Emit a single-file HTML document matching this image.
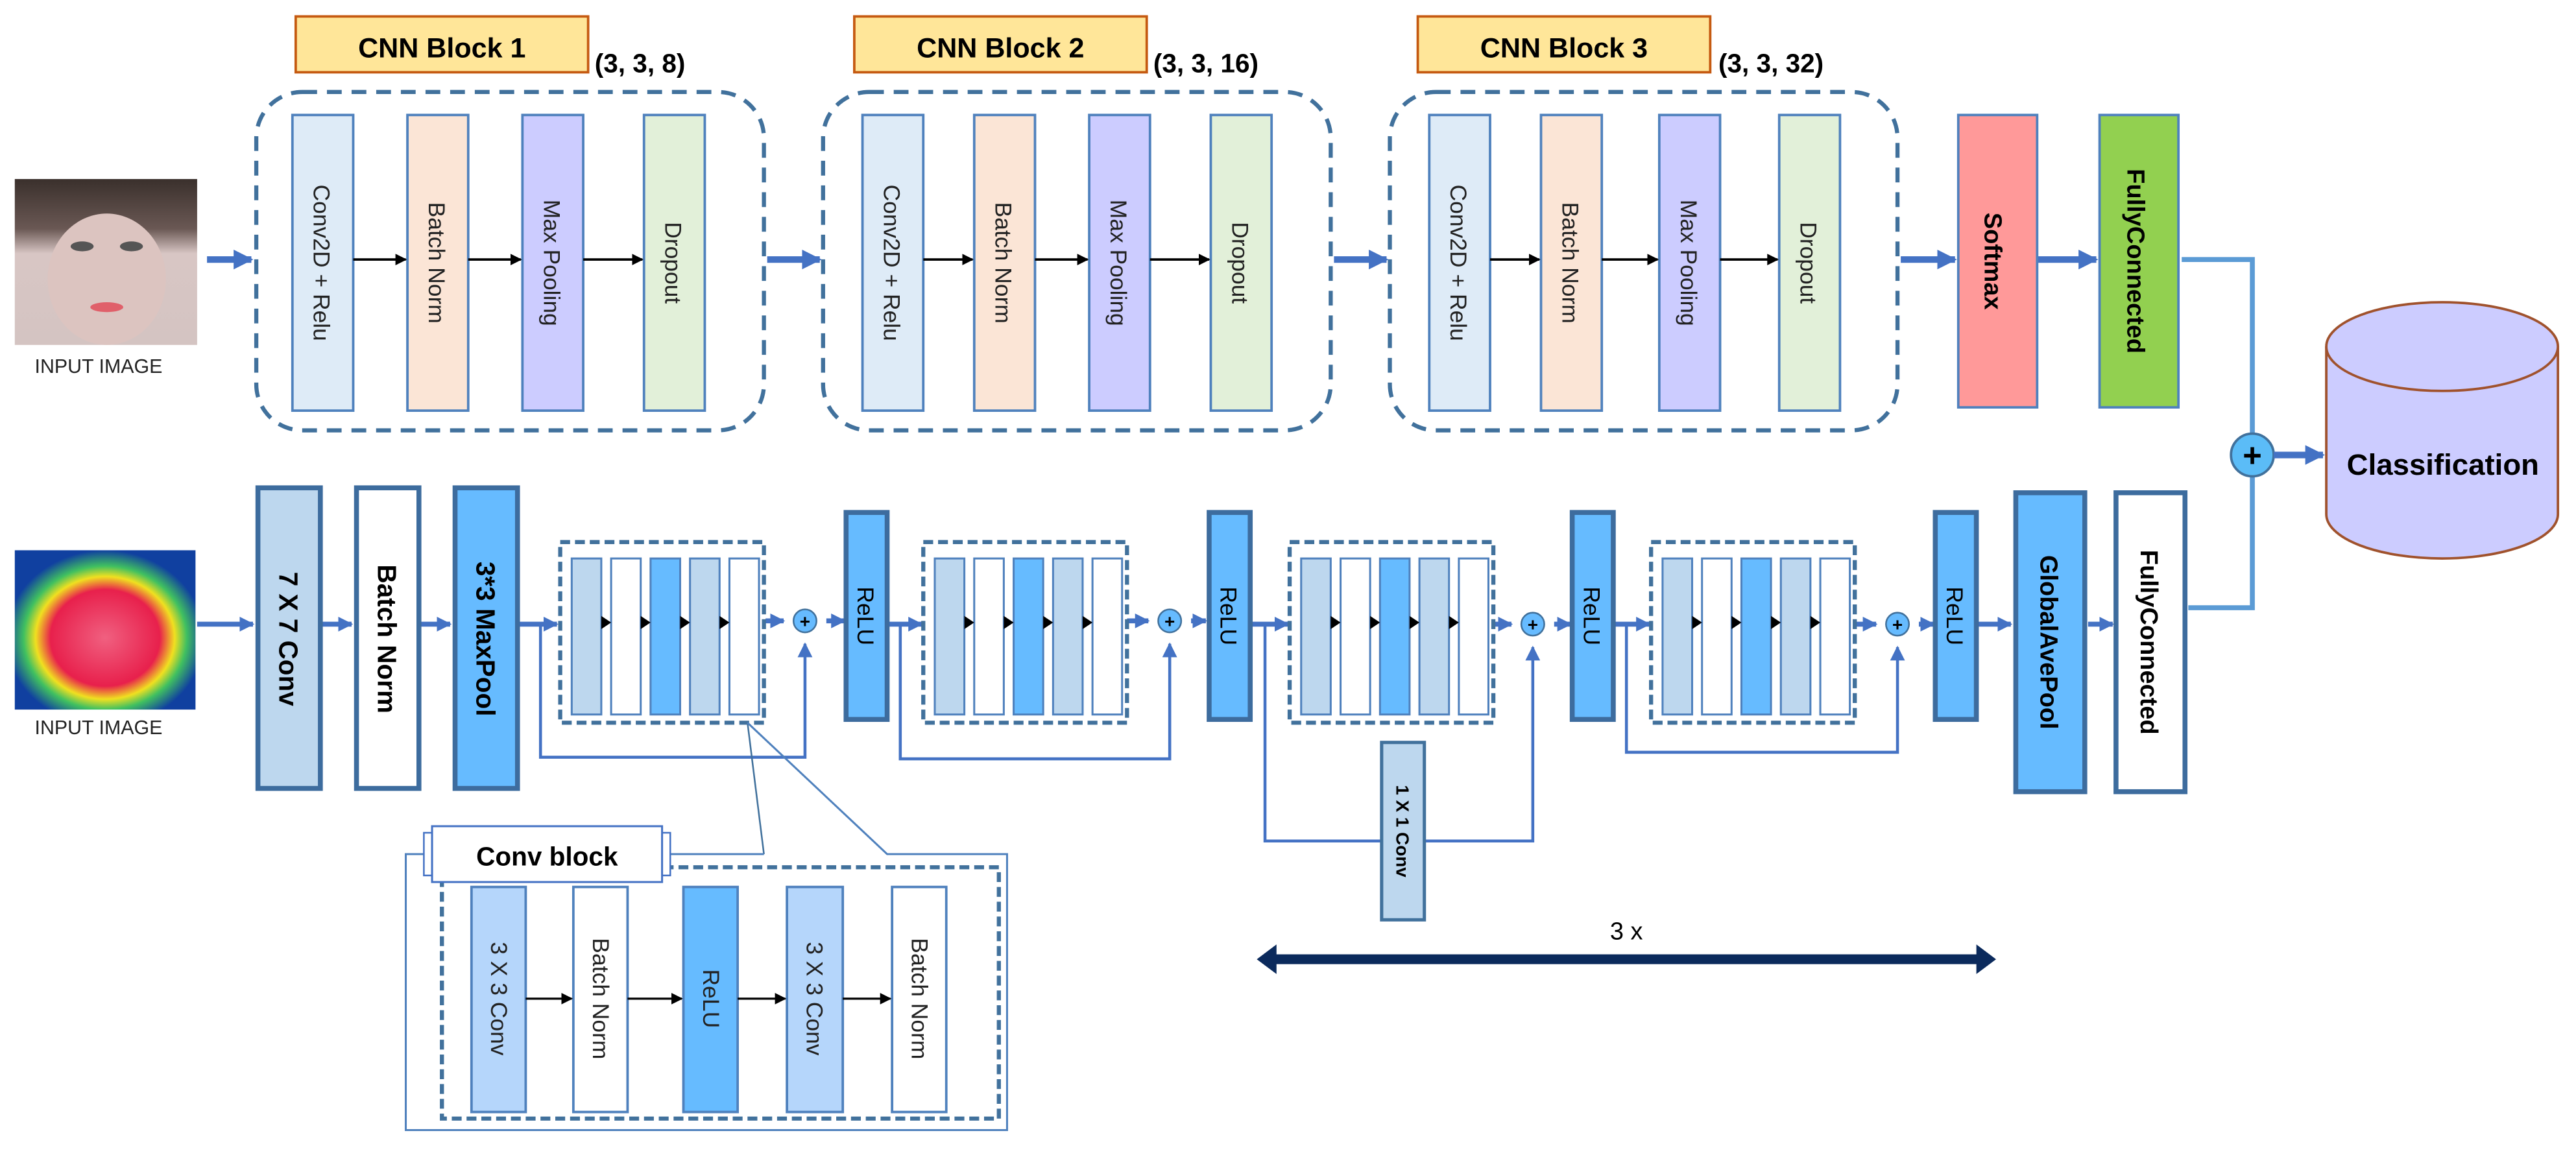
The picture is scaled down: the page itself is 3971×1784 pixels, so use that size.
<!DOCTYPE html>
<html><head><meta charset="utf-8"><style>
html,body{margin:0;padding:0;background:#fff;}
svg{display:block;}
text{font-family:"Liberation Sans","DejaVu Sans",sans-serif;}
</style></head><body>
<svg width="3971" height="1784" viewBox="0 0 1568 704.4" preserveAspectRatio="none" xmlns="http://www.w3.org/2000/svg">
<defs>
<marker id="ab" viewBox="0 0 10 10" refX="9" refY="5" markerWidth="7" markerHeight="7" markerUnits="userSpaceOnUse" orient="auto"><path d="M0,0L10,5L0,10z" fill="#000"/></marker>
<marker id="abl" viewBox="0 0 10 10" refX="9" refY="5" markerWidth="12" markerHeight="12" markerUnits="userSpaceOnUse" orient="auto"><path d="M0,0L10,5L0,10z" fill="#4472c4"/></marker>
<marker id="abs" viewBox="0 0 10 10" refX="9" refY="5" markerWidth="9" markerHeight="9" markerUnits="userSpaceOnUse" orient="auto"><path d="M0,0L10,5L0,10z" fill="#4472c4"/></marker>
<linearGradient id="face" x1="0" y1="0" x2="0" y2="1"><stop offset="0" stop-color="#3a302c"/><stop offset="0.3" stop-color="#6a5854"/><stop offset="0.45" stop-color="#d8c6c4"/><stop offset="1" stop-color="#d4c4c2"/></linearGradient>
<radialGradient id="therm" cx="0.5" cy="0.55" r="0.55"><stop offset="0" stop-color="#f06080"/><stop offset="0.55" stop-color="#e8204c"/><stop offset="0.7" stop-color="#f0e020"/><stop offset="0.82" stop-color="#40c060"/><stop offset="1" stop-color="#1040a0"/></radialGradient>
</defs>

<!-- TOP ROW -->
<rect x="9" y="109" width="111" height="101" fill="url(#face)"/>
<ellipse cx="65" cy="170" rx="36" ry="40" fill="#dcc4c0"/>
<ellipse cx="50" cy="150" rx="7" ry="3" fill="#555"/><ellipse cx="80" cy="150" rx="7" ry="3" fill="#555"/>
<ellipse cx="65" cy="187" rx="10" ry="3" fill="#e0606a"/>
<text x="60" y="227" font-size="12" text-anchor="middle" fill="#222">INPUT IMAGE</text>
<line x1="126" y1="158" x2="153" y2="158" stroke="#4472c4" stroke-width="4" marker-end="url(#abl)"/>

<g id="blk">
</g>
<!-- Block 1 -->
<rect x="180" y="10" width="178" height="34" fill="#ffe699" stroke="#c55a11" stroke-width="1.5"/>
<text x="269" y="35" font-size="17" font-weight="bold" text-anchor="middle">CNN Block 1</text>
<text x="362" y="44" font-size="16" font-weight="bold">(3, 3, 8)</text>
<rect x="156" y="56" width="309" height="206" rx="28" fill="none" stroke="#41719c" stroke-width="2.5" stroke-dasharray="9,6"/>
<!-- Block 2 -->
<rect x="520" y="10" width="178" height="34" fill="#ffe699" stroke="#c55a11" stroke-width="1.5"/>
<text x="609" y="35" font-size="17" font-weight="bold" text-anchor="middle">CNN Block 2</text>
<text x="702" y="44" font-size="16" font-weight="bold">(3, 3, 16)</text>
<rect x="501" y="56" width="309" height="206" rx="28" fill="none" stroke="#41719c" stroke-width="2.5" stroke-dasharray="9,6"/>
<!-- Block 3 -->
<rect x="863" y="10" width="178" height="34" fill="#ffe699" stroke="#c55a11" stroke-width="1.5"/>
<text x="952" y="35" font-size="17" font-weight="bold" text-anchor="middle">CNN Block 3</text>
<text x="1046" y="44" font-size="16" font-weight="bold">(3, 3, 32)</text>
<rect x="846" y="56" width="309" height="206" rx="28" fill="none" stroke="#41719c" stroke-width="2.5" stroke-dasharray="9,6"/>

<g font-size="14" fill="#222">
<!-- bars block1 -->
<rect x="178" y="70" width="37" height="180" fill="#deebf7" stroke="#4f81bd" stroke-width="1.5"/>
<rect x="248" y="70" width="37" height="180" fill="#fbe5d6" stroke="#4f81bd" stroke-width="1.5"/>
<rect x="318" y="70" width="37" height="180" fill="#ccccff" stroke="#4f81bd" stroke-width="1.5"/>
<rect x="392" y="70" width="37" height="180" fill="#e2f0d9" stroke="#4f81bd" stroke-width="1.5"/>
<text transform="translate(191,160) rotate(90)" text-anchor="middle">Conv2D + Relu</text>
<text transform="translate(261,160) rotate(90)" text-anchor="middle">Batch Norm</text>
<text transform="translate(331,160) rotate(90)" text-anchor="middle">Max Pooling</text>
<text transform="translate(405,160) rotate(90)" text-anchor="middle">Dropout</text>
<!-- block2 -->
<rect x="525" y="70" width="37" height="180" fill="#deebf7" stroke="#4f81bd" stroke-width="1.5"/>
<rect x="593" y="70" width="37" height="180" fill="#fbe5d6" stroke="#4f81bd" stroke-width="1.5"/>
<rect x="663" y="70" width="37" height="180" fill="#ccccff" stroke="#4f81bd" stroke-width="1.5"/>
<rect x="737" y="70" width="37" height="180" fill="#e2f0d9" stroke="#4f81bd" stroke-width="1.5"/>
<text transform="translate(538,160) rotate(90)" text-anchor="middle">Conv2D + Relu</text>
<text transform="translate(606,160) rotate(90)" text-anchor="middle">Batch Norm</text>
<text transform="translate(676,160) rotate(90)" text-anchor="middle">Max Pooling</text>
<text transform="translate(750,160) rotate(90)" text-anchor="middle">Dropout</text>
<!-- block3 -->
<rect x="870" y="70" width="37" height="180" fill="#deebf7" stroke="#4f81bd" stroke-width="1.5"/>
<rect x="938" y="70" width="37" height="180" fill="#fbe5d6" stroke="#4f81bd" stroke-width="1.5"/>
<rect x="1010" y="70" width="37" height="180" fill="#ccccff" stroke="#4f81bd" stroke-width="1.5"/>
<rect x="1083" y="70" width="37" height="180" fill="#e2f0d9" stroke="#4f81bd" stroke-width="1.5"/>
<text transform="translate(883,160) rotate(90)" text-anchor="middle">Conv2D + Relu</text>
<text transform="translate(951,160) rotate(90)" text-anchor="middle">Batch Norm</text>
<text transform="translate(1023,160) rotate(90)" text-anchor="middle">Max Pooling</text>
<text transform="translate(1096,160) rotate(90)" text-anchor="middle">Dropout</text>
</g>
<g stroke="#000" stroke-width="1.5" marker-end="url(#ab)">
<line x1="215" y1="158" x2="247" y2="158"/><line x1="285" y1="158" x2="317" y2="158"/><line x1="355" y1="158" x2="391" y2="158"/>
<line x1="562" y1="158" x2="592" y2="158"/><line x1="630" y1="158" x2="662" y2="158"/><line x1="700" y1="158" x2="736" y2="158"/>
<line x1="907" y1="158" x2="937" y2="158"/><line x1="975" y1="158" x2="1009" y2="158"/><line x1="1047" y1="158" x2="1082" y2="158"/>
</g>
<g stroke="#4472c4" stroke-width="4" marker-end="url(#abl)">
<line x1="467" y1="158" x2="499" y2="158"/>
<line x1="812" y1="158" x2="844" y2="158"/>
<line x1="1157" y1="158" x2="1190" y2="158"/>
<line x1="1240" y1="158" x2="1276" y2="158"/>
</g>
<rect x="1192" y="70" width="48" height="178" fill="#ff9999" stroke="#4f81bd" stroke-width="1.5"/>
<text transform="translate(1208,159) rotate(90)" font-size="15" font-weight="bold" text-anchor="middle">Softmax</text>
<rect x="1278" y="70" width="48" height="178" fill="#92d050" stroke="#4f81bd" stroke-width="1.5"/>
<text transform="translate(1295,159) rotate(90)" font-size="15" font-weight="bold" text-anchor="middle">FullyConnected</text>

<!-- merge -->
<polyline points="1328,158 1371,158 1371,265" fill="none" stroke="#5b9bd5" stroke-width="3"/>
<polyline points="1332,370 1371,370 1371,289" fill="none" stroke="#5b9bd5" stroke-width="3"/>
<circle cx="1371" cy="277" r="13" fill="#5bbcf7" stroke="#41719c" stroke-width="1.5"/>
<text x="1371" y="284" font-size="20" font-weight="bold" text-anchor="middle">+</text>
<line x1="1384" y1="277" x2="1414" y2="277" stroke="#4472c4" stroke-width="4" marker-end="url(#abl)"/>
<path d="M1416,211 L1416,313 A70.5,27 0 0 0 1557,313 L1557,211" fill="#ccccff" stroke="#a0522d" stroke-width="1.5"/>
<ellipse cx="1486.5" cy="211" rx="70.5" ry="27" fill="#ccccff" stroke="#a0522d" stroke-width="1.5"/>
<text x="1487" y="289" font-size="18" font-weight="bold" text-anchor="middle">Classification</text>

<!-- BOTTOM ROW -->
<rect x="9" y="335" width="110" height="97" fill="url(#therm)"/>
<text x="60" y="447" font-size="12" text-anchor="middle" fill="#222">INPUT IMAGE</text>
<g stroke="#4472c4" stroke-width="3" marker-end="url(#abs)">
<line x1="120" y1="380" x2="154" y2="380"/>
<line x1="196" y1="380" x2="214" y2="380"/>
<line x1="256" y1="380" x2="274" y2="380"/>
<line x1="316" y1="380" x2="339" y2="380"/>
<line x1="466" y1="378" x2="477" y2="378"/>
<line x1="503" y1="378" x2="514" y2="378"/>
<line x1="541" y1="380" x2="561" y2="380"/>
<line x1="686" y1="378" x2="699" y2="378"/>
<line x1="725" y1="378" x2="734" y2="378"/>
<line x1="761" y1="380" x2="784" y2="380"/>
<line x1="909" y1="380" x2="920" y2="380"/>
<line x1="946" y1="380" x2="956" y2="380"/>
<line x1="983" y1="380" x2="1004" y2="380"/>
<line x1="1129" y1="380" x2="1142" y2="380"/>
<line x1="1168" y1="380" x2="1177" y2="380"/>
<line x1="1204" y1="380" x2="1224" y2="380"/>
<line x1="1271" y1="380" x2="1286" y2="380"/>
</g>
<g stroke="#3d6c9e" stroke-width="3">
<rect x="157" y="297" width="38" height="183" fill="#bdd7ee"/>
<rect x="217" y="297" width="38" height="183" fill="#fff"/>
<rect x="277" y="297" width="38" height="183" fill="#66bbff"/>
<rect x="515" y="312" width="25" height="126" fill="#66bbff"/>
<rect x="736" y="312" width="25" height="126" fill="#66bbff"/>
<rect x="957" y="312" width="25" height="126" fill="#66bbff"/>
<rect x="1178" y="312" width="25" height="126" fill="#66bbff"/>
<rect x="1227" y="300" width="42" height="182" fill="#66bbff"/>
<rect x="1288" y="300" width="42" height="182" fill="#fff"/>
</g>
<text transform="translate(170,389) rotate(90)" font-size="16" font-weight="bold" text-anchor="middle">7 X 7 Conv</text>
<text transform="translate(230,389) rotate(90)" font-size="16" font-weight="bold" text-anchor="middle">Batch Norm</text>
<text transform="translate(290,389) rotate(90)" font-size="16" font-weight="bold" text-anchor="middle">3*3 MaxPool</text>
<text transform="translate(522,375) rotate(90)" font-size="14" text-anchor="middle">ReLU</text>
<text transform="translate(743,375) rotate(90)" font-size="14" text-anchor="middle">ReLU</text>
<text transform="translate(964,375) rotate(90)" font-size="14" text-anchor="middle">ReLU</text>
<text transform="translate(1185,375) rotate(90)" font-size="14" text-anchor="middle">ReLU</text>
<text transform="translate(1242,391) rotate(90)" font-size="15" font-weight="bold" text-anchor="middle">GlobalAvePool</text>
<text transform="translate(1303,391) rotate(90)" font-size="15" font-weight="bold" text-anchor="middle">FullyConnected</text>

<!-- residual blocks -->
<g id="rb">
<rect x="341" y="330" width="124" height="110" fill="#fff" stroke="#41719c" stroke-width="2.5" stroke-dasharray="6,3"/>
<g stroke="#4f81bd" stroke-width="1.2">
<rect x="348" y="340" width="18" height="95" fill="#bdd7ee"/>
<rect x="372" y="340" width="18" height="95" fill="#fff"/>
<rect x="396" y="340" width="18" height="95" fill="#66bbff"/>
<rect x="420" y="340" width="18" height="95" fill="#bdd7ee"/>
<rect x="444" y="340" width="18" height="95" fill="#fff"/>
</g>
<g fill="#000"><path d="M366,375l6,4l-6,4z"/><path d="M390,375l6,4l-6,4z"/><path d="M414,375l6,4l-6,4z"/><path d="M438,375l6,4l-6,4z"/></g>
</g>
<use href="#rb" x="221"/>
<use href="#rb" x="444"/>
<use href="#rb" x="664"/>
<!-- plus circles -->
<g>
<circle cx="490" cy="378" r="7" fill="#66bbff" stroke="#41719c"/><text x="490" y="382" font-size="11" font-weight="bold" text-anchor="middle">+</text>
<circle cx="712" cy="378" r="7" fill="#66bbff" stroke="#41719c"/><text x="712" y="382" font-size="11" font-weight="bold" text-anchor="middle">+</text>
<circle cx="933" cy="380" r="7" fill="#66bbff" stroke="#41719c"/><text x="933" y="384" font-size="11" font-weight="bold" text-anchor="middle">+</text>
<circle cx="1155" cy="380" r="7" fill="#66bbff" stroke="#41719c"/><text x="1155" y="384" font-size="11" font-weight="bold" text-anchor="middle">+</text>
</g>
<!-- skip lines -->
<g fill="none" stroke="#4472c4" stroke-width="1.8">
<polyline points="329,380 329,461 490,461 490,392" marker-end="url(#abs)"/>
<polyline points="548,380 548,462 712,462 712,392" marker-end="url(#abs)"/>
<polyline points="770,380 770,512 933,512 933,394" marker-end="url(#abs)"/>
<polyline points="990,380 990,458 1155,458 1155,394" marker-end="url(#abs)"/>
</g>
<rect x="841" y="452" width="26" height="108" fill="#bdd7ee" stroke="#41719c" stroke-width="2"/>
<text transform="translate(850,506) rotate(90)" font-size="11" font-weight="bold" text-anchor="middle">1 X 1 Conv</text>

<!-- 3x arrow -->
<line x1="775" y1="584" x2="1205" y2="584" stroke="#0b2a5c" stroke-width="6"/>
<path d="M765,584l12,-9v18z M1215,584l-12,-9v18z" fill="#0b2a5c"/>
<text x="990" y="572" font-size="15" text-anchor="middle">3 x</text>

<!-- callout -->
<polyline points="455,440 465,520" fill="none" stroke="#41719c" stroke-width="1"/>
<polyline points="455,440 540,520 613,520 613,688 247,688 247,520 465,520" fill="none" stroke="#4f81bd" stroke-width="1.2"/>
<rect x="269" y="528" width="339" height="153" fill="#fff" stroke="#41719c" stroke-width="2.5" stroke-dasharray="6,3"/>
<rect x="258" y="507" width="150" height="26" fill="#fff" stroke="#4472c4" stroke-width="1"/>
<rect x="263" y="503" width="140" height="34" fill="#fff" stroke="#4472c4" stroke-width="1.2"/>
<text x="333" y="527" font-size="16" font-weight="bold" text-anchor="middle">Conv block</text>
<g stroke="#4f81bd" stroke-width="1.5">
<rect x="287" y="540" width="33" height="137" fill="#b5d6fb"/>
<rect x="349" y="540" width="33" height="137" fill="#fff"/>
<rect x="416" y="540" width="33" height="137" fill="#66bbff"/>
<rect x="479" y="540" width="34" height="137" fill="#b5d6fb"/>
<rect x="543" y="540" width="33" height="137" fill="#fff"/>
</g>
<g font-size="14" fill="#222">
<text transform="translate(299,608) rotate(90)" text-anchor="middle">3 X 3 Conv</text>
<text transform="translate(361,608) rotate(90)" text-anchor="middle">Batch Norm</text>
<text transform="translate(428,608) rotate(90)" text-anchor="middle">ReLU</text>
<text transform="translate(491,608) rotate(90)" text-anchor="middle">3 X 3 Conv</text>
<text transform="translate(555,608) rotate(90)" text-anchor="middle">Batch Norm</text>
</g>
<g stroke="#000" stroke-width="1.3" marker-end="url(#ab)">
<line x1="320" y1="608" x2="348" y2="608"/><line x1="382" y1="608" x2="415" y2="608"/><line x1="449" y1="608" x2="478" y2="608"/><line x1="513" y1="608" x2="542" y2="608"/>
</g>
</svg>
</body></html>
